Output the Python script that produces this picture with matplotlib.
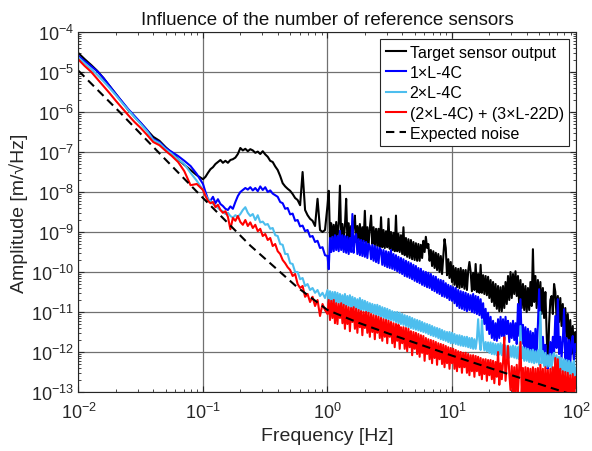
import numpy as np
import matplotlib
matplotlib.use("Agg")
import matplotlib.pyplot as plt
from matplotlib.ticker import LogLocator, NullFormatter

plt.rcParams['font.family'] = ['Liberation Sans', 'DejaVu Sans']
plt.rcParams['mathtext.fontset'] = 'custom'
plt.rcParams['mathtext.rm'] = 'Liberation Sans'
plt.rcParams['mathtext.it'] = 'Liberation Sans:italic'

# frequency bins, log10(Hz)
log_freq = [
    -2.00, -1.95, -1.90, -1.85, -1.80, -1.75, -1.70, -1.65, -1.60, -1.55,
    -1.50, -1.45, -1.40, -1.35, -1.30, -1.25, -1.20, -1.15, -1.10, -1.05,
    -1.00, -0.98, -0.96, -0.94, -0.92, -0.90, -0.88, -0.86, -0.84, -0.82,
    -0.80, -0.78, -0.76, -0.74, -0.72, -0.70, -0.68, -0.66, -0.64, -0.62,
    -0.60, -0.58, -0.56, -0.54, -0.52, -0.50, -0.48, -0.46, -0.44, -0.42,
    -0.40, -0.38, -0.36, -0.34, -0.32, -0.30, -0.28, -0.26, -0.24, -0.22,
    -0.20, -0.18, -0.16, -0.14, -0.12, -0.10, -0.08, -0.06, -0.04, -0.02,
    0.00, 0.01, 0.02, 0.03, 0.04, 0.05, 0.06, 0.07, 0.08, 0.09,
    0.10, 0.11, 0.12, 0.13, 0.14, 0.15, 0.16, 0.17, 0.18, 0.19,
    0.20, 0.21, 0.22, 0.23, 0.24, 0.25, 0.26, 0.27, 0.28, 0.29,
    0.30, 0.31, 0.32, 0.33, 0.34, 0.35, 0.36, 0.37, 0.38, 0.39,
    0.40, 0.41, 0.42, 0.43, 0.44, 0.45, 0.46, 0.47, 0.48, 0.49,
    0.50, 0.51, 0.52, 0.53, 0.54, 0.55, 0.56, 0.57, 0.58, 0.59,
    0.60, 0.61, 0.62, 0.63, 0.64, 0.65, 0.66, 0.67, 0.68, 0.69,
    0.70, 0.71, 0.72, 0.73, 0.74, 0.75, 0.76, 0.77, 0.78, 0.79,
    0.80, 0.81, 0.82, 0.83, 0.84, 0.85, 0.86, 0.87, 0.88, 0.89,
    0.90, 0.91, 0.92, 0.93, 0.94, 0.95, 0.96, 0.97, 0.98, 0.99,
    1.00, 1.01, 1.02, 1.03, 1.04, 1.05, 1.06, 1.07, 1.08, 1.09,
    1.10, 1.11, 1.12, 1.13, 1.14, 1.15, 1.16, 1.17, 1.18, 1.19,
    1.20, 1.21, 1.22, 1.23, 1.24, 1.25, 1.26, 1.27, 1.28, 1.29,
    1.30, 1.31, 1.32, 1.33, 1.34, 1.35, 1.36, 1.37, 1.38, 1.39,
    1.40, 1.41, 1.42, 1.43, 1.44, 1.45, 1.46, 1.47, 1.48, 1.49,
    1.50, 1.51, 1.52, 1.53, 1.54, 1.55, 1.56, 1.57, 1.58, 1.59,
    1.60, 1.61, 1.62, 1.63, 1.64, 1.65, 1.66, 1.67, 1.68, 1.69,
    1.70, 1.71, 1.72, 1.73, 1.74, 1.75, 1.76, 1.77, 1.78, 1.79,
    1.80, 1.81, 1.82, 1.83, 1.84, 1.85, 1.86, 1.87, 1.88, 1.89,
    1.90, 1.91, 1.92, 1.93, 1.94, 1.95, 1.96, 1.97, 1.98, 1.99,
    2.00,
]

# amplitudes, log10(m/sqrt(Hz))
target_log = [
    -4.53, -4.68, -4.82, -4.97, -5.15, -5.35, -5.55, -5.75, -5.95, -6.12,
    -6.28, -6.45, -6.62, -6.72, -6.88, -7.02, -7.18, -7.32, -7.45, -7.58,
    -7.68, -7.62, -7.52, -7.43, -7.38, -7.30, -7.25, -7.20, -7.27, -7.22,
    -7.27, -7.20, -7.18, -7.14, -7.05, -6.90, -6.96, -6.92, -6.98, -6.93,
    -6.96, -7.02, -6.99, -7.05, -6.98, -7.06, -7.12, -7.22, -7.25, -7.36,
    -7.45, -7.60, -7.78, -7.86, -7.92, -7.97, -8.05, -8.15, -8.20, -8.33,
    -7.50, -8.45, -8.58, -8.67, -8.72, -8.85, -8.17, -8.95, -9.00, -8.95,
    -8.34, -7.97, -9.15, -8.78, -9.18, -8.82, -9.20, -8.75, -9.15, -8.80,
    -7.84, -9.18, -8.80, -9.20, -8.85, -8.17, -9.22, -8.78, -9.25, -8.85,
    -9.22, -8.82, -8.59, -9.25, -8.85, -9.22, -8.80, -9.28, -8.88, -9.25,
    -8.47, -9.28, -8.88, -9.32, -8.90, -8.59, -9.30, -8.88, -9.35, -8.92,
    -9.35, -8.92, -9.38, -8.63, -9.38, -8.95, -9.40, -8.98, -9.38, -8.67,
    -9.42, -9.00, -9.45, -9.02, -9.48, -8.59, -9.48, -9.05, -9.50, -9.08,
    -9.55, -8.88, -9.58, -9.15, -9.62, -9.18, -9.65, -9.20, -9.68, -9.25,
    -9.70, -9.28, -9.72, -9.30, -9.72, -9.32, -9.65, -9.22, -9.50, -9.12,
    -9.40, -9.30, -9.72, -9.45, -9.85, -9.48, -9.90, -9.52, -9.95, -9.55,
    -10.00, -9.60, -10.05, -9.62, -9.18, -9.40, -10.08, -9.68, -10.15, -9.75,
    -10.25, -9.85, -10.32, -9.90, -10.38, -9.92, -10.40, -9.90, -10.38, -9.95,
    -10.42, -9.95, -10.45, -9.98, -9.75, -10.00, -10.48, -10.02, -10.45, -9.80,
    -10.50, -10.05, -10.52, -9.82, -10.52, -10.08, -10.55, -10.10, -10.58, -10.12,
    -10.65, -10.20, -10.75, -10.25, -10.85, -10.30, -10.92, -10.35, -10.98, -10.38,
    -10.98, -10.35, -10.90, -10.25, -10.80, -10.10, -10.70, -10.00, -10.65, -10.05,
    -10.55, -9.98, -10.60, -10.10, -10.85, -10.20, -10.90, -10.30, -10.95, -10.35,
    -11.00, -10.40, -10.95, -10.25, -10.85, -9.43, -10.75, -10.10, -10.90, -10.20,
    -10.95, -10.25, -11.05, -10.40, -11.15, -10.50, -11.50, -12.40, -11.30, -10.70,
    -10.60, -11.05, -10.30, -10.50, -11.15, -10.60, -11.25, -10.65, -11.35, -10.80,
    -11.55, -10.90, -11.65, -11.05, -11.85, -11.20, -12.05, -11.35, -12.25, -11.50,
    -11.90,
]

one_l4c_log = [
    -4.60, -4.73, -4.85, -4.98, -5.15, -5.35, -5.55, -5.74, -5.93, -6.10,
    -6.27, -6.45, -6.68, -6.75, -6.90, -7.00, -7.10, -7.22, -7.35, -7.55,
    -7.80, -8.00, -8.18, -8.22, -8.12, -8.28, -8.18, -8.30, -8.35, -8.42,
    -8.45, -8.36, -8.42, -8.25, -8.10, -8.00, -7.95, -7.90, -7.94, -7.88,
    -7.96, -7.90, -7.98, -7.86, -7.95, -7.88, -8.00, -7.96, -8.04, -8.08,
    -8.12, -8.25, -8.28, -8.42, -8.40, -8.56, -8.54, -8.72, -8.70, -8.86,
    -8.84, -8.98, -8.95, -9.12, -9.10, -9.25, -9.22, -9.40, -9.38, -9.58,
    -9.60, -9.93, -9.15, -9.50, -9.12, -9.48, -9.08, -9.45, -9.10, -9.48,
    -8.97, -9.45, -9.08, -9.50, -9.10, -9.52, -9.12, -9.55, -9.15, -9.50,
    -8.55, -9.52, -9.12, -9.05, -9.55, -9.18, -9.58, -9.20, -9.60, -9.22,
    -9.62, -9.25, -9.65, -9.30, -9.35, -9.68, -9.32, -9.72, -9.35, -9.75,
    -9.38, -9.78, -9.40, -9.45, -9.82, -9.45, -9.85, -9.48, -9.88, -9.50,
    -9.90, -9.45, -9.92, -9.55, -9.95, -9.58, -9.98, -9.62, -10.02, -9.65,
    -10.05, -9.68, -10.10, -9.72, -10.12, -9.75, -10.15, -9.78, -10.18, -9.82,
    -10.22, -9.85, -10.25, -9.90, -10.28, -9.92, -10.32, -9.98, -10.35, -10.00,
    -10.38, -10.02, -10.40, -10.05, -10.45, -10.10, -10.48, -10.12, -10.52, -10.18,
    -10.55, -10.20, -10.60, -10.22, -10.62, -10.28, -10.65, -10.32, -10.70, -10.35,
    -10.72, -10.38, -10.78, -10.40, -10.85, -10.45, -10.90, -10.48, -10.92, -10.50,
    -10.95, -10.52, -10.98, -10.55, -10.95, -10.58, -11.00, -10.55, -11.02, -10.60,
    -11.05, -10.62, -11.08, -10.68, -11.15, -10.78, -11.30, -10.92, -11.45, -11.02,
    -11.55, -11.12, -11.65, -11.22, -11.70, -11.28, -11.72, -11.18, -11.65, -11.12,
    -11.60, -11.18, -11.70, -11.12, -11.55, -11.22, -11.75, -11.28, -11.65, -11.22,
    -11.70, -11.28, -11.80, -10.80, -11.60, -10.68, -11.80, -11.32, -11.90, -11.38,
    -11.95, -11.42, -12.05, -11.48, -12.00, -11.52, -12.10, -11.42, -12.05, -11.32,
    -10.43, -11.52, -12.10, -11.62, -12.20, -11.82, -12.40, -12.42, -12.20, -11.75,
    -12.10, -11.62, -12.00, -11.10, -11.90, -10.68, -12.05, -11.62, -12.15, -11.72,
    -10.93, -12.19, -11.65, -12.25, -11.70, -12.30, -11.75, -11.60, -12.20, -11.80,
    -11.97,
]

two_l4c_log = [
    -4.64, -4.78, -4.92, -5.07, -5.23, -5.40, -5.58, -5.77, -5.95, -6.13,
    -6.30, -6.48, -6.70, -6.78, -6.93, -7.05, -7.18, -7.30, -7.52, -7.72,
    -7.95, -8.08, -8.18, -8.22, -8.30, -8.33, -8.40, -8.45, -8.48, -8.55,
    -8.52, -8.60, -8.64, -8.58, -8.62, -8.55, -8.45, -8.38, -8.52, -8.60,
    -8.55, -8.70, -8.58, -8.76, -8.74, -8.82, -8.80, -8.92, -8.90, -9.08,
    -9.10, -9.30, -9.32, -9.55, -9.55, -9.78, -9.80, -10.00, -10.00, -10.18,
    -10.15, -10.35, -10.30, -10.45, -10.40, -10.52, -10.45, -10.60, -10.52, -10.65,
    -10.45, -10.72, -10.48, -10.75, -10.50, -10.78, -10.50, -10.80, -10.52, -10.78,
    -10.55, -10.82, -10.58, -10.85, -10.55, -10.88, -10.60, -10.85, -10.58, -10.90,
    -10.62, -10.90, -10.65, -10.92, -10.68, -10.95, -10.65, -10.98, -10.70, -10.95,
    -10.72, -11.00, -10.75, -11.02, -10.78, -11.00, -10.80, -11.05, -10.82, -11.08,
    -10.82, -11.10, -10.85, -11.12, -10.88, -11.15, -10.90, -11.18, -10.92, -11.20,
    -10.95, -11.20, -10.98, -11.22, -11.00, -11.25, -11.00, -11.28, -11.02, -11.30,
    -11.05, -11.32, -11.08, -11.35, -11.10, -11.38, -11.12, -11.40, -11.15, -11.42,
    -11.18, -11.44, -11.20, -11.46, -11.22, -11.48, -11.25, -11.50, -11.28, -11.52,
    -11.30, -11.55, -11.32, -11.58, -11.35, -11.60, -11.38, -11.62, -11.40, -11.65,
    -11.42, -11.68, -11.45, -11.70, -11.48, -11.72, -11.50, -11.75, -11.50, -11.78,
    -11.52, -11.78, -11.55, -11.80, -11.58, -11.82, -11.58, -11.84, -11.60, -11.85,
    -11.62, -11.86, -11.62, -11.88, -11.65, -11.90, -11.65, -11.92, -11.68, -11.92,
    -11.68, -11.18, -11.70, -11.95, -11.20, -11.72, -11.96, -11.75, -11.98, -11.76,
    -12.02, -11.76, -12.05, -11.78, -12.06, -11.80, -12.08, -11.80, -12.06, -11.78,
    -12.08, -11.82, -12.10, -11.84, -12.12, -11.84, -12.14, -11.86, -12.12, -11.84,
    -12.14, -11.86, -12.16, -11.88, -12.18, -11.35, -12.16, -11.88, -12.22, -11.90,
    -12.22, -11.92, -12.25, -11.95, -12.26, -11.94, -12.28, -11.98, -12.26, -11.96,
    -12.32, -11.00, -12.28, -11.98, -12.35, -12.02, -12.38, -12.08, -12.36, -12.05,
    -12.42, -12.08, -12.02, -12.40, -12.08, -12.45, -12.12, -12.48, -12.15, -12.50,
    -12.18, -12.52, -12.20, -12.55, -12.22, -12.58, -12.25, -12.60, -12.22, -12.62,
    -12.40,
]

combo_log = [
    -4.69, -4.85, -4.99, -5.17, -5.35, -5.53, -5.72, -5.90, -6.08, -6.25,
    -6.40, -6.57, -6.75, -6.83, -6.97, -7.10, -7.25, -7.48, -7.83, -7.80,
    -7.95, -8.10, -8.22, -8.28, -8.25, -8.38, -8.32, -8.45, -8.52, -8.48,
    -8.62, -8.93, -8.65, -8.72, -8.60, -8.75, -8.82, -8.70, -8.85, -8.76,
    -8.90, -8.82, -8.98, -8.92, -9.10, -9.05, -9.20, -9.15, -9.35, -9.30,
    -9.48, -9.55, -9.70, -9.78, -9.88, -9.95, -10.10, -10.05, -10.30, -10.40,
    -10.35, -10.62, -10.55, -10.75, -10.62, -10.85, -10.70, -11.10, -10.80, -10.95,
    -11.05, -10.70, -11.20, -10.72, -11.15, -10.70, -11.28, -10.78, -11.30, -10.80,
    -11.15, -10.78, -11.28, -10.82, -11.42, -10.85, -11.30, -10.88, -11.48, -10.90,
    -11.25, -10.88, -11.42, -10.92, -11.52, -10.95, -11.38, -10.98, -11.58, -11.00,
    -11.40, -11.00, -11.52, -11.02, -11.62, -11.05, -11.50, -11.08, -11.68, -11.10,
    -11.52, -11.12, -11.65, -11.15, -11.72, -11.18, -11.62, -11.20, -11.78, -11.22,
    -11.62, -11.25, -11.78, -11.28, -11.88, -11.30, -11.72, -11.32, -11.92, -11.38,
    -11.78, -11.38, -11.92, -11.40, -11.98, -11.42, -11.88, -11.48, -12.08, -11.50,
    -11.92, -11.52, -12.05, -11.55, -12.12, -11.58, -12.02, -11.60, -12.22, -11.65,
    -12.05, -11.68, -12.18, -11.70, -12.28, -11.72, -12.15, -11.75, -12.32, -11.78,
    -12.18, -11.80, -12.30, -11.82, -12.38, -11.85, -12.28, -11.88, -12.42, -11.90,
    -12.28, -11.92, -12.42, -11.95, -12.48, -11.98, -12.38, -12.00, -12.52, -12.02,
    -12.38, -12.02, -12.52, -12.05, -12.58, -12.08, -12.48, -12.08, -12.62, -12.10,
    -12.48, -12.12, -12.58, -12.15, -12.68, -12.18, -12.55, -12.18, -12.72, -12.20,
    -12.58, -12.20, -12.68, -12.22, -12.78, -12.25, -12.62, -12.00, -12.82, -12.28,
    -12.68, -12.25, -11.63, -12.72, -12.30, -11.85, -12.52, -12.95, -12.35, -13.05,
    -12.38, -13.15, -12.32, -13.00, -12.38, -11.75, -13.05, -12.40, -13.20, -12.38,
    -13.05, -12.40, -13.20, -12.42, -13.10, -12.38, -13.25, -12.42, -13.15, -12.40,
    -13.20, -12.32, -13.10, -12.42, -13.30, -12.38, -13.15, -12.45, -13.25, -12.42,
    -13.15, -12.38, -13.20, -12.15, -13.05, -12.18, -13.20, -12.42, -13.30, -12.48,
    -13.15, -12.50, -13.25, -12.52, -13.20, -12.58, -13.30, -12.55, -13.25, -12.62,
    -12.90,
]

# expected noise model, read at a few frequencies
noise_log_freq = [-2.00, -1.67, -1.36, -1.00, -0.62, -0.245, 0.00, 0.25, 0.50, 1.00, 1.50, 2.00]
noise_log = [-4.97, -6.00, -7.00, -8.15, -9.34, -10.375, -10.95, -11.27, -11.55, -12.09, -12.60, -13.10]

labels = ['Target sensor output', '1\u00d7L-4C', '2\u00d7L-4C',
          '(2\u00d7L-4C) + (3\u00d7L-22D)', 'Expected noise']
colors = ['black', '#0000ff', '#4dbeee', '#ff0000', 'black']

freq = 10 ** np.array(log_freq)
series = [target_log, one_l4c_log, two_l4c_log, combo_log]

fig = plt.figure(figsize=(5.92, 4.52), dpi=100)
ax = fig.add_axes([0.1326, 0.1305, 0.8412, 0.7965])

for vals, lab, col in zip(series, labels[:4], colors[:4]):
    ax.loglog(freq, 10 ** np.array(vals), color=col, lw=1.5, label=lab)
ax.loglog(10 ** np.array(noise_log_freq), 10 ** np.array(noise_log), color='black',
          lw=1.5, linestyle=(0, (4, 2.5)), label=labels[4])

ax.set_xlim(1e-2, 1e2)
ax.set_ylim(1e-13, 1e-4)
ax.yaxis.set_major_locator(LogLocator(base=10, numticks=20))
ax.yaxis.set_minor_locator(LogLocator(base=10, subs=np.arange(2, 10), numticks=100))
ax.yaxis.set_minor_formatter(NullFormatter())
ax.xaxis.set_minor_locator(LogLocator(base=10, subs=np.arange(2, 10), numticks=100))
ax.xaxis.set_minor_formatter(NullFormatter())

ax.grid(True, which='major', color='#707070', lw=0.9)
ax.tick_params(which='both', direction='in', top=True, right=True,
               colors='#262626', labelsize=13)
ax.tick_params(which='major', length=4)
ax.tick_params(which='minor', length=2)
ax.tick_params(axis='x', which='major', pad=7)
ax.tick_params(axis='y', which='major', pad=3)
for s in ax.spines.values():
    s.set_color('#262626')
    s.set_linewidth(0.8)

ax.set_title('Influence of the number of reference sensors', fontsize=13.5, pad=6, color='#111111')
ax.set_xlabel('Frequency [Hz]', fontsize=14, color='#262626', labelpad=4)
ax.set_ylabel('Amplitude [m/\u221aHz]', fontsize=14, color='#262626', labelpad=2)

leg = ax.legend(loc='upper right', fontsize=11.5, handlelength=1.3, handletextpad=0.2,
                borderpad=0.35, labelspacing=0.33, fancybox=False, framealpha=1,
                borderaxespad=0.45)
leg.get_frame().set_edgecolor('#262626')
leg.get_frame().set_linewidth(0.8)

fig.savefig('out.png', dpi=100)
